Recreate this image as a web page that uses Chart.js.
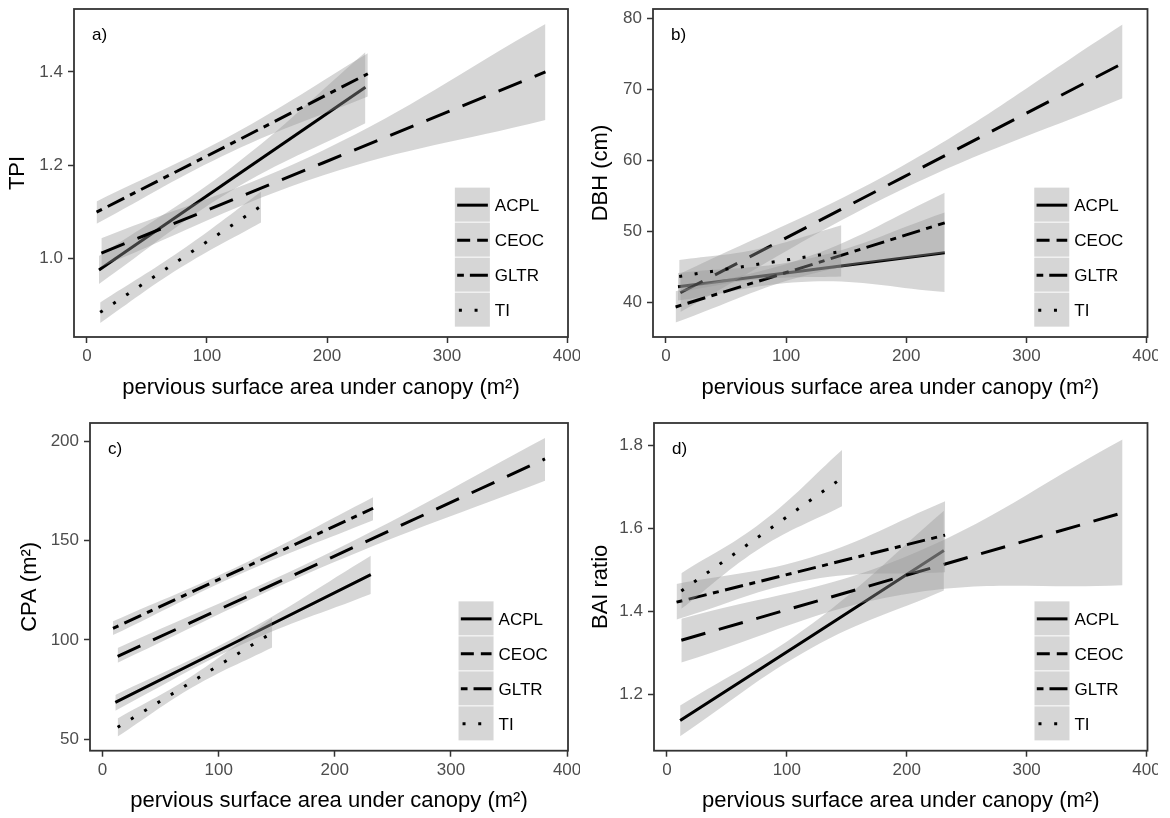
<!DOCTYPE html>
<html lang="en">
<head>
<meta charset="UTF-8">
<title>Tree metrics vs pervious surface area</title>
<script src="https://cdn.jsdelivr.net/npm/chart.js"></script>
<style>
  body { margin: 0; background: #fff; }
  .panel { position: absolute; }
  #boxA { left: 0; top: 0; }
  #boxB { left: 585px; top: 0; }
  #boxC { left: 0; top: 409px; }
  #boxD { left: 585px; top: 409px; }
</style>
</head>
<body>
<div class="panel" id="boxA"><canvas id="chartA" width="580" height="409"></canvas></div>
<div class="panel" id="boxB"><canvas id="chartB" width="573" height="409"></canvas></div>
<div class="panel" id="boxC"><canvas id="chartC" width="580" height="409"></canvas></div>
<div class="panel" id="boxD"><canvas id="chartD" width="573" height="409"></canvas></div>
<script>
const species = ['ACPL', 'CEOC', 'GLTR', 'TI'];
const xTicks = [0, 100, 200, 300, 400];
const xTitle = 'pervious surface area under canopy (m²)';

// rows: x, fitted value, lower 95% CI, upper 95% CI
const tpiACPL = [[10, 0.975, 0.945, 1.005], [121, 1.171, 1.146, 1.196], [232, 1.367, 1.290, 1.442]];
const tpiCEOC = [[12, 1.011, 0.982, 1.043], [197, 1.205, 1.178, 1.232], [382, 1.400, 1.297, 1.503]];
const tpiGLTR = [[8, 1.099, 1.074, 1.122], [121, 1.247, 1.229, 1.265], [234, 1.396, 1.347, 1.440]];
const tpiTI = [[11, 0.884, 0.861, 0.905], [78, 0.998, 0.980, 1.016], [145, 1.112, 1.077, 1.143]];
const tpiTicks = [1.0, 1.2, 1.4];

const dbhACPL = [[10, 42.25, 40.3, 44.2], [121, 44.65, 43.0, 46.3], [232, 47.05, 41.5, 52.7]];
const dbhCEOC = [[12, 41.4, 38.7, 44.1], [196, 57.55, 55.9, 59.2], [380, 73.7, 68.8, 79.2]];
const dbhGLTR = [[8, 39.4, 37.2, 41.6], [120, 45.3, 44.0, 46.6], [232, 51.25, 47.0, 55.5]];
const dbhTI = [[11, 43.7, 41.5, 46.0], [78, 45.45, 43.3, 47.6], [146, 47.2, 43.7, 50.9]];
const dbhTicks = [40, 50, 60, 70, 80];

const cpaACPL = [[11, 68.5, 64.3, 72.2], [121, 100.7, 97.9, 103.5], [231, 132.9, 123.2, 142.5]];
const cpaCEOC = [[13, 91.7, 88.5, 95.9], [197, 141.5, 138.6, 144.4], [381, 191.3, 180.3, 201.8]];
const cpaGLTR = [[9, 105.8, 102.4, 109.4], [121, 136.1, 133.9, 138.3], [233, 166.4, 160.4, 172.0]];
const cpaTI = [[13, 55.9, 51.2, 60.4], [79, 79.6, 76.6, 82.6], [146, 103.6, 96.2, 111.2]];
const cpaTicks = [50, 100, 150, 200];

const baiACPL = [[11, 1.136, 1.098, 1.172], [121, 1.341, 1.312, 1.370], [231, 1.547, 1.450, 1.643]];
const baiCEOC = [[12, 1.330, 1.276, 1.382], [196, 1.484, 1.440, 1.528], [380, 1.638, 1.463, 1.815]];
const baiGLTR = [[8, 1.422, 1.380, 1.466], [120, 1.503, 1.476, 1.530], [232, 1.584, 1.494, 1.666]];
const baiTI = [[12, 1.449, 1.406, 1.492], [79, 1.585, 1.555, 1.615], [146, 1.722, 1.654, 1.790]];
const baiTicks = [1.2, 1.4, 1.6, 1.8];

Chart.defaults.font.family = "'Liberation Sans', Arial, sans-serif";

const ribbonFill = 'rgba(153,153,153,0.4)';
const lineDash = { ACPL: [], CEOC: [25, 14], GLTR: [6, 6.5, 18.5, 6.5], TI: [3, 12.6] };
const keyDash = { ACPL: [], CEOC: [13, 7], GLTR: [6.7, 6, 19.3, 6], TI: [3, 12.7] };

// panel frame, corner tag and the legend boxes
const panelDecor = {
  id: 'panelDecor',
  afterDraw(chart, args, opts) {
    const { ctx, chartArea: a } = chart;
    const w = a.right - a.left, h = a.bottom - a.top;
    ctx.save();
    ctx.strokeStyle = '#333';
    ctx.lineWidth = 1.8;
    ctx.setLineDash([]);
    ctx.strokeRect(a.left, a.top, w, h);

    ctx.fillStyle = '#000';
    ctx.font = "17px 'Liberation Sans', Arial, sans-serif";
    ctx.textBaseline = 'middle';
    ctx.textAlign = 'left';
    ctx.fillText(opts.tag, a.left + 18, a.top + 26);

    const kx = a.left + 0.771 * w;
    const ky = a.top + 0.97 * h - 4 * 35;
    species.forEach((s, i) => {
      const y0 = ky + i * 35;
      ctx.fillStyle = ribbonFill;
      ctx.fillRect(kx, y0 + 0.5, 35, 34);
      ctx.strokeStyle = '#000';
      ctx.lineWidth = 3;
      ctx.lineCap = 'butt';
      ctx.setLineDash(keyDash[s]);
      ctx.beginPath();
      ctx.moveTo(kx + (s === 'TI' ? 4 : 2.3), y0 + 18);
      ctx.lineTo(kx + 33, y0 + 18);
      ctx.stroke();
      ctx.setLineDash([]);
      ctx.fillStyle = '#000';
      ctx.fillText(s, kx + 40, y0 + 19);
    });
    ctx.restore();
  }
};

function makeChart(id, p) {
  const datasets = [];
  let order = 100;
  p.series.forEach((rows, i) => {
    const name = species[i];
    datasets.push({
      label: name + ' lower', data: rows.map(r => ({ x: r[0], y: r[2] })),
      borderColor: 'rgba(0,0,0,0)', borderWidth: 0, pointRadius: 0, tension: 0.4,
      fill: false, order: order--
    });
    datasets.push({
      label: name + ' upper', data: rows.map(r => ({ x: r[0], y: r[3] })),
      borderColor: 'rgba(0,0,0,0)', borderWidth: 0, pointRadius: 0, tension: 0.4,
      fill: '-1', backgroundColor: ribbonFill, order: order--
    });
    datasets.push({
      label: name, data: rows.map(r => ({ x: r[0], y: r[1] })),
      borderColor: '#000', borderWidth: 3, borderDash: lineDash[name], borderCapStyle: 'butt',
      pointRadius: 0, tension: 0, fill: false, order: order--
    });
  });

  return new Chart(document.getElementById(id), {
    type: 'line',
    data: { datasets },
    options: {
      responsive: false,
      animation: false,
      events: [],
      layout: { padding: p.padding },
      plugins: {
        legend: { display: false },
        tooltip: { enabled: false },
        panelDecor: { tag: p.tag }
      },
      scales: {
        x: {
          type: 'linear', min: -10.8, max: 400.8,
          afterBuildTicks: s => { s.ticks = xTicks.map(v => ({ value: v })); },
          afterFit: s => { s.height = p.xAxisHeight; s.paddingLeft = 0; s.paddingRight = 0; },
          grid: { drawOnChartArea: false, drawTicks: true, tickLength: 6, tickWidth: 1.5, tickColor: '#333' },
          border: { display: false },
          ticks: { padding: 3, color: '#4d4d4d', font: { size: 17 }, maxRotation: 0, autoSkip: false, callback: v => String(v) },
          title: { display: true, text: xTitle, color: '#000', font: { size: 22 }, padding: { top: 0, bottom: p.xTitlePad } }
        },
        y: {
          min: p.yMin, max: p.yMax,
          afterBuildTicks: s => { s.ticks = p.yTicks.map(v => ({ value: v })); },
          afterFit: s => { s.width = p.yAxisWidth; s.paddingTop = 0; s.paddingBottom = 0; },
          grid: { drawOnChartArea: false, drawTicks: true, tickLength: 6, tickWidth: 1.5, tickColor: '#333' },
          border: { display: false },
          ticks: { padding: 5, color: '#4d4d4d', font: { size: 17 }, autoSkip: false, callback: v => v.toFixed(p.yDecimals) },
          title: { display: true, text: p.yTitle, color: '#000', font: { size: 22 }, padding: { top: p.yTitlePad, bottom: 0 } }
        }
      }
    },
    plugins: [panelDecor]
  });
}

makeChart('chartA', {
  series: [tpiACPL, tpiCEOC, tpiGLTR, tpiTI], tag: 'a)',
  yMin: 0.831, yMax: 1.535, yTicks: tpiTicks, yDecimals: 1, yTitle: 'TPI',
  padding: { left: 0, top: 9, right: 12, bottom: 0 },
  yAxisWidth: 74, xAxisHeight: 72, xTitlePad: 7.8, yTitlePad: 4.8
});
makeChart('chartB', {
  series: [dbhACPL, dbhCEOC, dbhGLTR, dbhTI], tag: 'b)',
  yMin: 35.17, yMax: 81.37, yTicks: dbhTicks, yDecimals: 0, yTitle: 'DBH (cm)',
  padding: { left: 0, top: 9, right: 10.5, bottom: 0 },
  yAxisWidth: 68, xAxisHeight: 72, xTitlePad: 7.8, yTitlePad: 2.7
});
makeChart('chartC', {
  series: [cpaACPL, cpaCEOC, cpaGLTR, cpaTI], tag: 'c)',
  yMin: 44.1, yMax: 209.4, yTicks: cpaTicks, yDecimals: 0, yTitle: 'CPA (m²)',
  padding: { left: 0, top: 14, right: 12, bottom: 0 },
  yAxisWidth: 90, xAxisHeight: 67.3, xTitlePad: 3.5, yTitlePad: 16.8
});
makeChart('chartD', {
  series: [baiACPL, baiCEOC, baiGLTR, baiTI], tag: 'd)',
  yMin: 1.063, yMax: 1.855, yTicks: baiTicks, yDecimals: 1, yTitle: 'BAI ratio',
  padding: { left: 0, top: 14, right: 10.5, bottom: 0 },
  yAxisWidth: 69, xAxisHeight: 67.3, xTitlePad: 3.5, yTitlePad: 2.7
});
</script>
</body>
</html>
